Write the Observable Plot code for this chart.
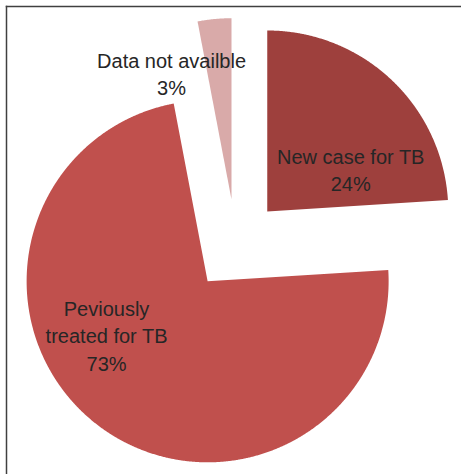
<!DOCTYPE html>
<html>
<head>
<meta charset="utf-8">
<script src="https://cdn.jsdelivr.net/npm/d3@7"></script>
<script src="https://cdn.jsdelivr.net/npm/@observablehq/plot@0.6"></script>
<style>
  html, body { margin: 0; padding: 0; background: #ffffff; }
  #chart svg { display: block; }
</style>
</head>
<body>
<div id="chart"></div>
<script>
// ---- data ----
const categories = ["New case for TB", "Peviously treated for TB", "Data not availble"];
const percents = [24, 73, 3];
const labels = ["New case for TB\n24%", "Peviously\ntreated for TB\n73%", "Data not availble\n3%"];

// ---- styles / layout ----
const colors = ["#9e403d", "#c0504d", "#d9aaa9"];
const explode = 0.254;                 // slice offset, in radius units
const labelXY = [[0.635, 0.421], [-0.714, -0.494], [-0.355, 0.951]]; // label centres, radius units
const W = 461, H = 474;
const mL = 6, mT = 6;
const cx = 235.3, cy = 244.5, R = 181; // pie centre/radius in pixels

// ---- build slice polygons ----
const arcs = d3.pie().sort(null).value(d => d)(percents);
const poly = [];
arcs.forEach((a, i) => {
  const mid = (a.startAngle + a.endAngle) / 2;
  const ox = explode * Math.sin(mid), oy = explode * Math.cos(mid);
  poly.push({cat: categories[i], x: ox, y: oy});
  const n = Math.max(4, Math.ceil((a.endAngle - a.startAngle) / (Math.PI / 720)));
  for (let k = 0; k <= n; k++) {
    const t = a.startAngle + (a.endAngle - a.startAngle) * k / n;
    poly.push({cat: categories[i], x: ox + Math.sin(t), y: oy + Math.cos(t)});
  }
  poly.push({cat: categories[i], x: ox, y: oy});
});
const labelData = categories.map((c, i) => ({cat: c, text: labels[i], x: labelXY[i][0], y: labelXY[i][1]}));

const chart = Plot.plot({
  width: W,
  height: H,
  marginLeft: mL, marginTop: mT, marginRight: 0, marginBottom: 0,
  style: {background: "#ffffff", fontFamily: "'Liberation Sans', Arial, sans-serif"},
  x: {domain: [(mL - cx) / R, (W - cx) / R], axis: null},
  y: {domain: [(cy - H) / R, (cy - mT) / R], axis: null},
  color: {domain: categories, range: colors},
  marks: [
    Plot.line(poly, {x: "x", y: "y", z: "cat", fill: "cat", stroke: "none", curve: "linear"}),
    Plot.text(labelData, {x: "x", y: "y", text: "text", fill: "#262626", fontSize: 20, lineHeight: 1.38, textAnchor: "middle"}),
    Plot.frame({anchor: "top", stroke: "#404040", strokeWidth: 1.5}),
    Plot.frame({anchor: "left", stroke: "#404040", strokeWidth: 1.5})
  ]
});
document.getElementById("chart").appendChild(chart);
</script>
</body>
</html>
